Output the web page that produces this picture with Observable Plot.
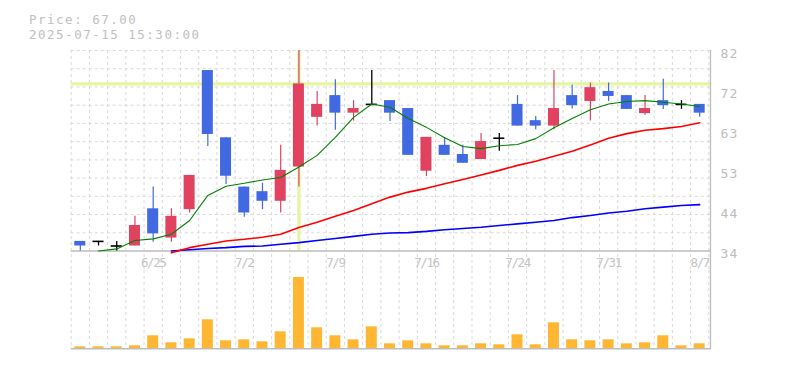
<!DOCTYPE html>
<html><head><meta charset="utf-8">
<script src="https://cdn.jsdelivr.net/npm/d3@7"></script>
<script src="https://cdn.jsdelivr.net/npm/@observablehq/plot@0.6"></script>
<style>
body{margin:0;background:#fff;}
#wrap{position:relative;width:785px;height:370px;overflow:hidden;font-family:"DejaVu Sans Mono",monospace;}
.ttl{position:absolute;left:29px;color:#c0c0c0;font-size:12.5px;letter-spacing:1.5px;line-height:13px;height:13px;white-space:pre;}
#t1{top:12.7px;}
#t2{top:27.5px;}
#price{position:absolute;left:0;top:0;}
#vol{position:absolute;left:0;top:270px;}
#price svg,#vol svg{overflow:visible;}
#price g[aria-label="x-axis tick label"] text{letter-spacing:-1.4px;}
#price g[aria-label="y-axis tick label"] text{letter-spacing:1.2px;}
</style></head>
<body>
<div id="wrap"><div id="price"></div><div id="vol"></div>
<div class="ttl" id="t1">Price: 67.00</div><div class="ttl" id="t2">2025-07-15 15:30:00</div></div>
<script>
const dates = ["6/19","6/20","6/23","6/24","6/25","6/26","6/27","6/30","7/1","7/2",
  "7/3","7/4","7/7","7/8","7/9","7/10","7/11","7/14","7/15","7/16",
  "7/17","7/18","7/22","7/23","7/24","7/25","7/28","7/29","7/30","7/31",
  "8/1","8/4","8/5","8/6","8/7"];
const open  = [36.3,36.3,35.2,35.2,44.1,37.1,43.9,77.2,61.1,49.3,48.2,45.9,54.1,66.0,71.2,67.0,69.1,70.0,68.1,53.1,59.3,57.1,55.9,61.0,69.1,65.2,63.9,71.2,69.8,72.2,71.2,66.9,70.0,69.1,69.1];
const high  = [36.3,36.3,36.3,42.3,49.3,44.1,52.1,77.2,61.1,49.3,50.2,59.3,82.0,72.2,75.0,70.0,77.2,70.0,68.1,61.2,61.2,59.3,62.1,62.1,71.2,66.2,77.2,73.7,74.2,74.2,71.2,71.2,75.1,70.0,69.1];
const low   = [34.0,35.2,34.0,35.2,36.1,36.1,43.1,59.0,49.9,42.1,43.9,43.1,49.3,63.9,62.9,65.1,69.1,65.0,56.9,51.8,56.9,55.0,55.9,57.9,63.9,63.0,63.0,68.0,65.1,69.8,67.9,66.5,67.9,67.9,66.0];
const close = [35.2,36.3,35.2,40.1,38.1,42.3,52.1,61.9,51.9,43.1,45.9,53.3,74.0,69.1,67.0,68.1,69.1,67.0,56.9,61.2,56.9,55.0,60.2,61.0,63.9,63.9,68.1,68.8,73.1,71.0,67.9,68.1,68.8,69.1,67.0];
const volume = [2000,2000,2000,3000,13000,6000,10000,29000,8000,9000,7000,17000,71300,21000,13000,9000,22000,5000,8000,5000,3000,3000,5000,4000,14000,4000,26000,9000,8000,9000,5000,6000,13000,3000,5000];
const maShort = [null,34.0,34.5,36.5,36.9,38.0,41.3,47.3,49.5,50.2,51.0,51.6,54.1,56.9,61.2,66.0,69.2,68.4,65.7,63.6,61.1,59.0,58.5,59.2,59.5,60.9,63.5,65.7,67.8,69.2,69.8,70.0,69.6,69.2,68.6];
const maMid = [null,null,null,null,null,33.6,34.8,35.6,36.4,36.8,37.3,38.0,39.6,40.9,42.3,43.7,45.3,46.9,48.1,49.0,50.1,51.1,52.2,53.3,54.5,55.5,56.7,57.9,59.4,61.0,62.1,62.9,63.3,63.8,64.7];
const maLong = [null,null,null,null,null,34.0,34.3,34.6,34.8,35.1,35.2,35.6,36.0,36.5,37.0,37.5,38.0,38.3,38.4,38.7,39.1,39.4,39.7,40.1,40.5,40.9,41.3,42.0,42.5,43.1,43.5,44.1,44.5,44.9,45.1];
const xTickLabels = ["6/25","7/2","7/9","7/16","7/24","7/31","8/7"];
const yTicks = [34, 43.6, 53.2, 62.8, 72.4, 82];
const crossDate = "7/7";

const N = dates.length;
const candles = dates.map((date, i) => ({i, date, open: open[i], high: high[i], low: low[i], close: close[i], volume: volume[i]}));
const upC = candles.filter(d => d.close > d.open);
const downC = candles.filter(d => d.close < d.open);
const dojiC = candles.filter(d => d.close === d.open);
const cross = candles.find(d => d.date === crossDate);
const hGrid = d3.range(1, 12).map(k => 34 + k * 48 / 11);
const vGrid = d3.range(N + 1);
const UP = "#e0425f", DOWN = "#4169e1", GRID = "#d9d9d9", AXIS = "#bdbdbd";
const ins = 3.6;
const xOpt = {domain: [0, N], range: [70.7, 708.3]};
const maPts = (arr) => arr.map((v, i) => ({x: i + 0.5, y: v})).filter(d => d.y != null);

const price = Plot.plot({
  width: 785, height: 270,
  marginLeft: 70.7, marginRight: 75, marginTop: 50, marginBottom: 19.5,
  style: {fontFamily: "DejaVu Sans Mono, monospace", background: "transparent"},
  x: xOpt,
  y: {domain: [34, 82]},
  marks: [
    Plot.ruleY(hGrid, {stroke: GRID, strokeDasharray: "3,3"}),
    Plot.ruleX(vGrid, {stroke: GRID, strokeDasharray: "3,3", insetBottom: -19.5}),
    Plot.ruleY([cross], {y: "close", stroke: "#e6f5a2", strokeWidth: 3.3}),
    Plot.ruleX([cross], {x: d => d.i + 0.5, stroke: "#e6f5a2", strokeWidth: 3.3}),
    Plot.ruleY([34], {stroke: AXIS, strokeWidth: 1.3}),
    Plot.frame({anchor: "right", stroke: AXIS, strokeWidth: 1.3, insetBottom: -97.8}),
    Plot.ruleX(upC, {x: d => d.i + 0.5, y1: "low", y2: "high", stroke: UP, strokeWidth: 1.2}),
    Plot.ruleX(downC, {x: d => d.i + 0.5, y1: "low", y2: "high", stroke: DOWN, strokeWidth: 1.2}),
    Plot.ruleX(dojiC, {x: d => d.i + 0.5, y1: "low", y2: "high", stroke: "#000", strokeWidth: 1.3}),
    Plot.rect(upC, {x1: d => d.i, x2: d => d.i + 1, y1: "open", y2: "close", fill: UP, insetLeft: ins, insetRight: ins}),
    Plot.rect(downC, {x1: d => d.i, x2: d => d.i + 1, y1: "open", y2: "close", fill: DOWN, insetLeft: ins, insetRight: ins}),
    Plot.ruleY(dojiC, {x1: d => d.i, x2: d => d.i + 1, y: "close", stroke: "#000", strokeWidth: 1.6, insetLeft: ins, insetRight: ins}),
    Plot.line(maPts(maLong), {x: "x", y: "y", stroke: "#0000ff", strokeWidth: 1.6}),
    Plot.line(maPts(maMid), {x: "x", y: "y", stroke: "#ff0000", strokeWidth: 1.6}),
    Plot.line(maPts(maShort), {x: "x", y: "y", stroke: "#008000", strokeWidth: 1.1}),
    Plot.axisX({ticks: xTickLabels.map(l => dates.indexOf(l) + 0.5), tickFormat: v => dates[Math.floor(v)], tickSize: 0, tickPadding: 7, fill: "#c4c4c4", fontSize: 12.5, label: null}),
    Plot.axisY({anchor: "right", ticks: yTicks, tickFormat: d => d3.format(".0f")(d), tickSize: 0, tickPadding: 10, dy: 3, fill: "#bdbdbd", fontSize: 13, textAnchor: "start", label: null})
  ]
});
document.getElementById("price").append(price);

const vol = Plot.plot({
  width: 785, height: 81,
  marginLeft: 70.7, marginRight: 75, marginTop: 0, marginBottom: 2.7,
  style: {background: "transparent"},
  x: {...xOpt, axis: null},
  y: {domain: [0, 78300], axis: null},
  marks: [
    Plot.ruleX(vGrid, {stroke: GRID, strokeDasharray: "3,3"}),
    Plot.rect(candles, {x1: d => d.i, x2: d => d.i + 1, y1: 0, y2: "volume", fill: "#ffb733", insetLeft: ins, insetRight: ins}),
    Plot.ruleY([0], {stroke: AXIS, strokeWidth: 1.5})
  ]
});
document.getElementById("vol").append(vol);
</script>
</body></html>
